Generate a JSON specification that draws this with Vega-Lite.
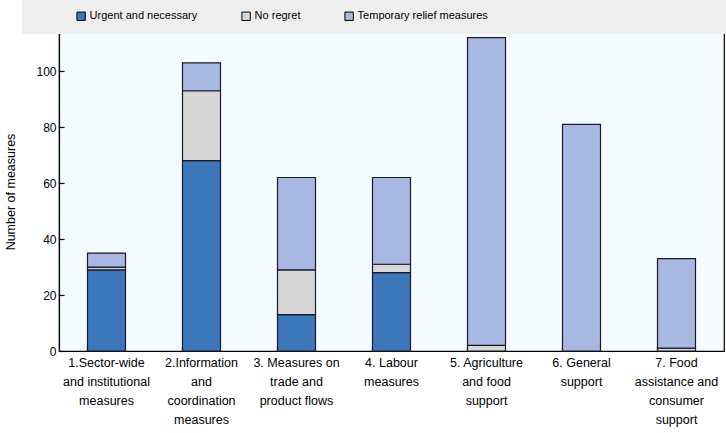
{
  "$schema": "https://vega.github.io/schema/vega-lite/v6.json",
  "width": 665,
  "height": 319,
  "autosize": {"type": "none"},
  "padding": {"left": 59, "top": 32, "right": 2, "bottom": 82},
  "config": {
    "font": "Liberation Sans, Arial",
    "view": {"fill": "#f4fbff", "stroke": "#000", "strokeWidth": 1.2},
    "axis": {"labelFontSize": 12, "labelColor": "#000", "titleColor": "#000", "domainColor": "#000", "tickColor": "#000", "grid": false, "zindex": 1}
  },
  "data": {
    "values": [
      {"category": "1.Sector-wide and institutional measures", "series": "Urgent and necessary", "value": 29},
      {"category": "1.Sector-wide and institutional measures", "series": "No regret", "value": 1},
      {"category": "1.Sector-wide and institutional measures", "series": "Temporary relief measures", "value": 5},
      {"category": "2.Information and coordination measures", "series": "Urgent and necessary", "value": 68},
      {"category": "2.Information and coordination measures", "series": "No regret", "value": 25},
      {"category": "2.Information and coordination measures", "series": "Temporary relief measures", "value": 10},
      {"category": "3. Measures on trade and product flows", "series": "Urgent and necessary", "value": 13},
      {"category": "3. Measures on trade and product flows", "series": "No regret", "value": 16},
      {"category": "3. Measures on trade and product flows", "series": "Temporary relief measures", "value": 33},
      {"category": "4. Labour measures", "series": "Urgent and necessary", "value": 28},
      {"category": "4. Labour measures", "series": "No regret", "value": 3},
      {"category": "4. Labour measures", "series": "Temporary relief measures", "value": 31},
      {"category": "5. Agriculture and food support", "series": "No regret", "value": 2},
      {"category": "5. Agriculture and food support", "series": "Temporary relief measures", "value": 110},
      {"category": "6. General support", "series": "Temporary relief measures", "value": 81},
      {"category": "7. Food assistance and consumer support", "series": "No regret", "value": 1},
      {"category": "7. Food assistance and consumer support", "series": "Temporary relief measures", "value": 32}
    ]
  },
  "transform": [
    {"calculate": "indexof(['Urgent and necessary','No regret','Temporary relief measures'], datum.series)", "as": "stackOrder"}
  ],
  "mark": {"type": "bar", "stroke": "#1a1a2a", "strokeWidth": 1.2},
  "encoding": {
    "x": {
      "field": "category", "type": "nominal", "sort": null,
      "scale": {"paddingInner": 0.6, "paddingOuter": 0.3},
      "axis": {
        "title": null, "labelAngle": 0, "bandPosition": 0, "tickSize": -5, "tickWidth": 1.2, "domainWidth": 1.2,
        "labelPadding": 10, "labelLineHeight": 19, "labelBaseline": "top", "labelFontSize": 12.5,
        "labelExpr": "{'1.Sector-wide and institutional measures': ['1.Sector-wide','and institutional','measures'], '2.Information and coordination measures': ['2.Information','and','coordination','measures'], '3. Measures on trade and product flows': ['3. Measures on','trade and','product flows'], '4. Labour measures': ['4. Labour','measures'], '5. Agriculture and food support': ['5. Agriculture','and food','support'], '6. General support': ['6. General','support'], '7. Food assistance and consumer support': ['7. Food','assistance and','consumer','support']}[datum.value]"
      }
    },
    "y": {
      "field": "value", "type": "quantitative", "stack": "zero",
      "scale": {"domain": [0, 114], "nice": false},
      "axis": {"title": "Number of measures", "titleFontSize": 12.5, "titleFontWeight": "normal", "titlePadding": 18, "values": [0, 20, 40, 60, 80, 100], "tickSize": -5, "tickWidth": 1.2, "domainWidth": 1.2, "labelPadding": 8}
    },
    "color": {
      "field": "series", "type": "nominal",
      "scale": {"domain": ["Urgent and necessary", "No regret", "Temporary relief measures"], "range": ["#3d77bb", "#d6d6d6", "#a8b8e2"]},
      "legend": {
        "title": "\u00a0", "titleOrient": "right", "titlePadding": 270,
        "orient": "none", "legendX": -37, "legendY": -32, "direction": "horizontal",
        "fillColor": "#eeeeee", "padding": 10.6, "symbolType": "square", "symbolSize": 70,
        "symbolStrokeColor": "#000", "symbolStrokeWidth": 1, "symbolOffset": 43, "columnPadding": 0,
        "labelFontSize": 11, "labelColor": "#000", "labelOffset": 3, "labelLimit": 300
      }
    },
    "order": {"field": "stackOrder", "type": "quantitative"}
  }
}
